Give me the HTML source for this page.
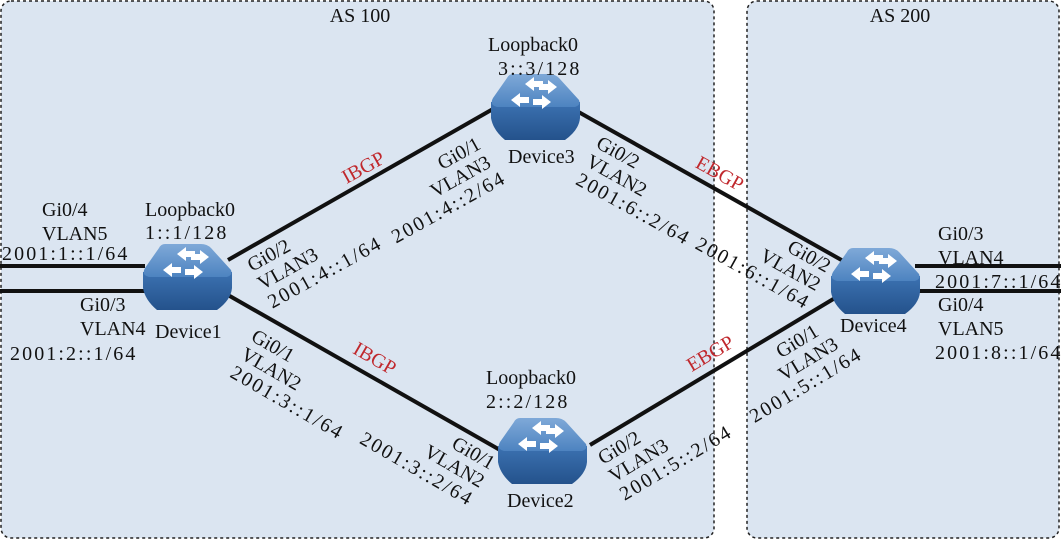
<!DOCTYPE html>
<html><head><meta charset="utf-8"><style>
html,body{margin:0;padding:0;background:#fff}
svg{display:block}
text{font-family:"Liberation Serif",serif;font-size:20px;fill:#111}
.a{letter-spacing:2.1px}
.r{fill:#c0282d}
</style></head><body>
<svg width="1061" height="540" viewBox="0 0 1061 540">
<defs>
<linearGradient id="top" x1="0" y1="0" x2="0" y2="1"><stop offset="0" stop-color="#7fa9d8"/><stop offset="1" stop-color="#4d83c0"/></linearGradient>
<linearGradient id="side" x1="0" y1="0" x2="0" y2="1"><stop offset="0" stop-color="#3c72b2"/><stop offset="1" stop-color="#24528c"/></linearGradient>
<g id="sw">
<path d="M-44,-6 L-44,10 Q-42,22 -30,32 L30,32 Q44,22 45,10 L45,-6 Z" fill="url(#side)"/>
<path d="M-22,-34 L14,-34 Q20,-34 24,-30 L44,-8 Q46,-3 40,-1 L-38,-1 Q-46,-3 -42,-10 L-28,-30 Q-26,-34 -22,-34 Z" fill="url(#top)"/>
<g fill="#fff">
<path d="M-24,-8 l9,-7 v4 h9 v6 h-9 v4 z"/>
<path d="M-10,-24 l9,-7 v4 h9 v6 h-9 v4 z"/>
<path d="M22,-21 l-9,-7 v4 h-9 v6 h9 v4 z"/>
<path d="M16,-6 l-9,-7 v4 h-9 v6 h9 v4 z"/>
</g>
</g>
</defs>
<rect x="1" y="1" width="713" height="537" rx="10" fill="#dbe5f1" stroke="#222" stroke-width="1.5" stroke-dasharray="3,3"/>
<rect x="747" y="1" width="312" height="537" rx="10" fill="#dbe5f1" stroke="#222" stroke-width="1.5" stroke-dasharray="3,3"/>
<g stroke="#111" stroke-width="4">
<line x1="0" y1="266" x2="145" y2="266"/><line x1="0" y1="291" x2="145" y2="291"/>
<line x1="228" y1="260" x2="500" y2="105"/>
<line x1="228" y1="295" x2="500" y2="450"/>
<line x1="575" y1="110" x2="845" y2="262"/>
<line x1="590" y1="445" x2="845" y2="292"/>
<line x1="915" y1="266" x2="1061" y2="266"/><line x1="915" y1="291" x2="1061" y2="291"/>
</g>
<use href="#sw" x="187" y="278"/>
<use href="#sw" x="535" y="108"/>
<use href="#sw" x="542" y="452"/>
<use href="#sw" x="875" y="282"/>
<text x="360" y="22" text-anchor="middle">AS 100</text>
<text x="900" y="22" text-anchor="middle">AS 200</text>
<text x="145" y="216">Loopback0</text><text class="a" x="145" y="239">1::1/128</text>
<text x="42" y="216">Gi0/4</text><text x="42" y="240">VLAN5</text><text class="a" x="2" y="260">2001:1::1/64</text>
<text x="80" y="311">Gi0/3</text><text x="80" y="335">VLAN4</text><text class="a" x="10" y="360">2001:2::1/64</text>
<text x="155" y="338">Device1</text>
<text x="488" y="51">Loopback0</text><text class="a" x="498" y="75">3::3/128</text>
<text x="508" y="163">Device3</text>
<text x="486" y="384">Loopback0</text><text class="a" x="486" y="408">2::2/128</text>
<text x="507" y="507">Device2</text>
<text x="840" y="332">Device4</text>
<text x="938" y="240">Gi0/3</text><text x="938" y="264">VLAN4</text><text class="a" x="935" y="288">2001:7::1/64</text>
<text x="938" y="311">Gi0/4</text><text x="938" y="335">VLAN5</text><text class="a" x="935" y="359">2001:8::1/64</text>

<g transform="translate(252,272) rotate(-29)"><text x="0" y="0">Gi0/2</text><text x="0" y="21">VLAN3</text><text class="a" x="0" y="42">2001:4::1/64</text></g>
<g transform="translate(482,148) rotate(-29)" text-anchor="end"><text x="0" y="0">Gi0/1</text><text x="0" y="21">VLAN3</text><text class="a" x="6" y="42">2001:4::2/64</text></g>
<g transform="translate(250,340) rotate(30)"><text x="0" y="0">Gi0/1</text><text x="0" y="21">VLAN2</text><text class="a" x="0" y="42">2001:3::1/64</text></g>
<g transform="translate(490,470) rotate(30)" text-anchor="end"><text x="0" y="0">Gi0/1</text><text x="0" y="21">VLAN2</text><text class="a" x="0" y="42">2001:3::2/64</text></g>
<g transform="translate(595,147) rotate(29)"><text x="0" y="0">Gi0/2</text><text x="0" y="21">VLAN2</text><text class="a" x="0" y="42">2001:6::2/64</text></g>
<g transform="translate(826,273) rotate(29)" text-anchor="end"><text x="0" y="0">Gi0/2</text><text x="0" y="21">VLAN2</text><text class="a" x="0" y="42">2001:6::1/64</text></g>
<g transform="translate(603,465) rotate(-31)"><text x="0" y="0">Gi0/2</text><text x="0" y="21">VLAN3</text><text class="a" x="0" y="42">2001:5::2/64</text></g>
<g transform="translate(820,335) rotate(-31)" text-anchor="end"><text x="0" y="0">Gi0/1</text><text x="10" y="21">VLAN3</text><text class="a" x="26" y="42">2001:5::1/64</text></g>

<g text-anchor="middle">
<g transform="translate(363,167) rotate(-29)"><text class="r" x="0" y="7">IBGP</text></g>
<g transform="translate(375,358) rotate(30)"><text class="r" x="0" y="7">IBGP</text></g>
<g transform="translate(720,173) rotate(29)"><text class="r" x="0" y="7">EBGP</text></g>
<g transform="translate(710,353) rotate(-31)"><text class="r" x="0" y="7">EBGP</text></g>
</g>
</svg>
</body></html>
